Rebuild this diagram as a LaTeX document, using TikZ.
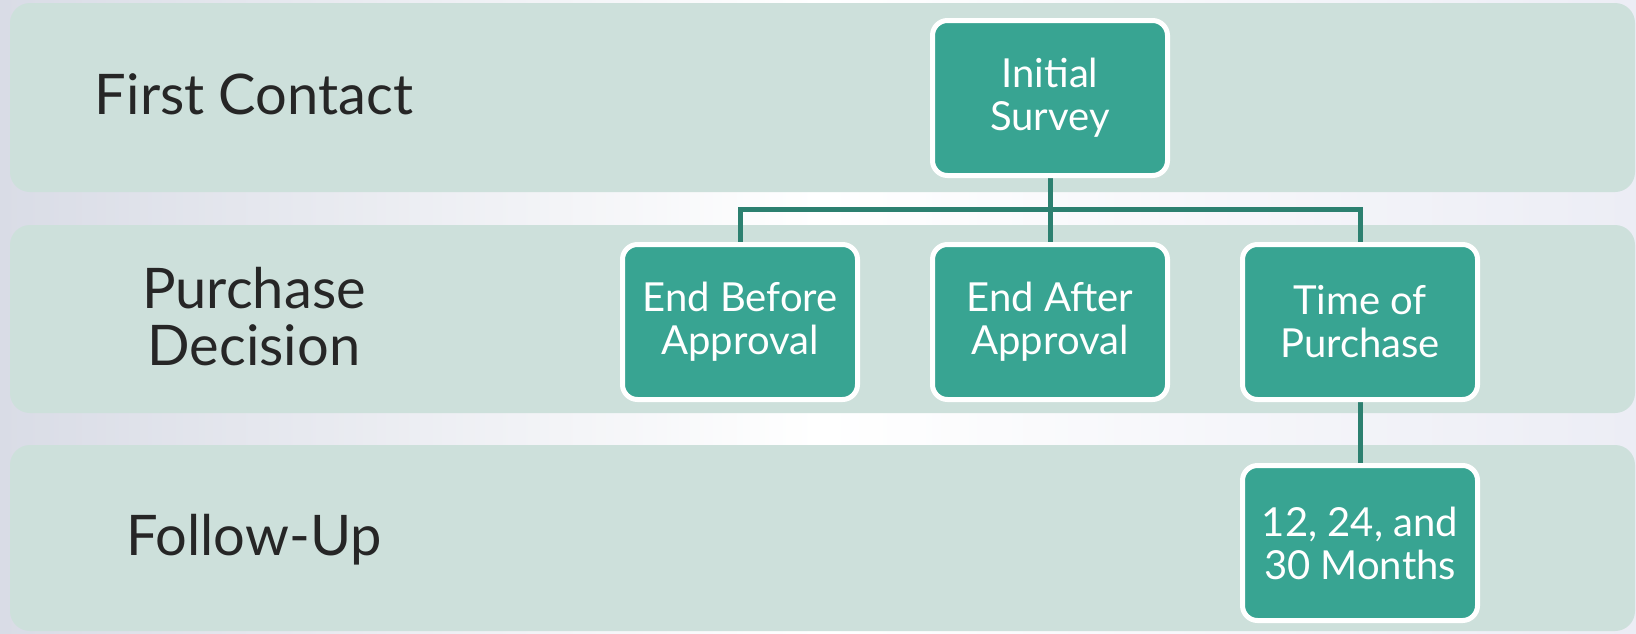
\documentclass[tikz,border=0pt]{standalone}
\usepackage{fontspec}
\setmainfont{Lato}
\usetikzlibrary{backgrounds}
\definecolor{bandC}{HTML}{CDE0DB}
\definecolor{boxC}{HTML}{38A492}
\definecolor{connC}{HTML}{2C8070}
\definecolor{txtC}{HTML}{262626}
\definecolor{bgL}{HTML}{D9DCE6}
\definecolor{bgR}{HTML}{ECEDF5}
\pgfdeclarelayer{connlayer}
\pgfsetlayers{background,connlayer,main}
\tikzset{
  band/.style={fill=bandC, rounded corners=20pt},
  stagebox/.style={rectangle, rounded corners=15pt, draw=white, line width=5pt,
    fill=boxC, text=white, align=center, minimum width=235pt, minimum height=155pt,
    inner sep=0pt, font=\fontsize{40}{43}\selectfont},
  bandlabel/.style={text=txtC, align=center, font=\fontsize{56}{57}\selectfont},
  connector/.style={draw=connC, line width=5pt}
}
\begin{document}
\begin{tikzpicture}[x=1pt,y=-1pt]
\useasboundingbox (0,0) rectangle (1636,633);
\begin{pgfonlayer}{background}
\shade[left color=bgL, right color=bgR, middle color=white] (0,0) rectangle (1636,633);
\fill[band] (10,3) rectangle (1635,192);
\fill[band] (10,225) rectangle (1635,413);
\fill[band] (10,445) rectangle (1635,631);
\end{pgfonlayer}
\node[bandlabel] (l1) at (254,94) {First Contact};
\node[bandlabel] (l2) at (254,317) {Purchase\\Decision};
\node[bandlabel] (l3) at (254,540) {Follow-Up};
\node[stagebox] (init) at (1050,98) {Initial\\Survey};
\node[stagebox] (before) at (740,322) {End Before\\Approval};
\node[stagebox] (after) at (1050,322) {End After\\Approval};
\node[stagebox] (tp) at (1360,322) {Time of\\Purchase};
\node[stagebox] (months) at (1360,543) {12, 24, and\\30 Months};
\coordinate (bus) at (0,209);
\begin{pgfonlayer}{connlayer}
\draw[connector] (before.north) -- (before.north |- bus) -- (tp.north |- bus) -- (tp.north);
\draw[connector] (init.south) -- (after.north);
\draw[connector] (tp.south) -- (months.north);
\end{pgfonlayer}
\end{tikzpicture}
\end{document}
